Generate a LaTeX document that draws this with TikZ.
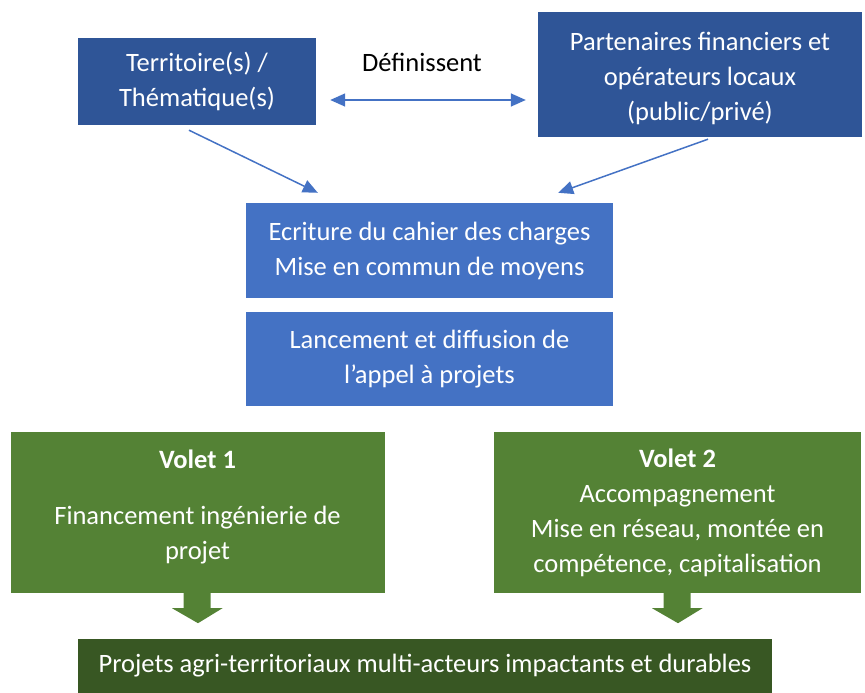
\documentclass[tikz,border=0pt]{standalone}
\usepackage{fontspec}
\setmainfont{Carlito}
\usetikzlibrary{arrows.meta,calc}
\definecolor{dblue}{HTML}{2F5597}
\definecolor{mblue}{HTML}{4472C4}
\definecolor{mgreen}{HTML}{548235}
\definecolor{dgreen}{HTML}{385723}
\begin{document}
\begin{tikzpicture}[x=1pt,y=-1pt,
  box/.style={rectangle,inner sep=0pt,align=center,text=white,
    font=\fontsize{26.5}{35}\selectfont},
  conn/.style={draw=mblue,line width=1.5pt,-{Triangle[length=15pt,width=13pt]}},
  blockarrow/.style={fill=mgreen,draw=none}]
\useasboundingbox (0,0) rectangle (865,693);
\node[box,fill=dblue,minimum width=238pt,minimum height=87pt] (tl) at (197,81.5)
  {Territoire(s) /\\Thématique(s)};
\node[box,fill=dblue,minimum width=324pt,minimum height=125pt] (tr) at (700,74.5)
  {\rule{0pt}{26pt}Partenaires financiers et\\opérateurs locaux\\(public/privé)};
\node[font=\fontsize{26.5}{35}\selectfont,inner sep=0pt] (def) at (422,62) {Définissent};
\node[box,fill=mblue,minimum width=367pt,minimum height=95pt] (m1) at (429.5,250.5)
  {Ecriture du cahier des charges\\Mise en commun de moyens};
\node[box,fill=mblue,minimum width=367pt,minimum height=94pt] (m2) at (429.5,359)
  {Lancement et diffusion de\\l’appel à projets};
\node[box,fill=mgreen,minimum width=374pt,minimum height=161pt] (g1) at (197.5,512.5)
  {\textbf{Volet 1}\\[21pt]Financement ingénierie de\\projet\rule[-15pt]{0pt}{0pt}};
\node[box,fill=mgreen,minimum width=367pt,minimum height=161pt] (g2) at (677.5,512.5)
  {\textbf{Volet 2}\\Accompagnement\\Mise en réseau, montée en\\compétence, capitalisation};
\node[box,fill=dgreen,minimum width=694pt,minimum height=54pt] (b) at (425,666)
  {Projets agri-territoriaux multi-acteurs impactants et durables};
% connectors
\draw[conn,{Triangle[length=15pt,width=13pt]}-{Triangle[length=15pt,width=13pt]}]
  ($(tl.east)+(14,18.5)$) -- ($(tr.west)+(-12,25.5)$);
\draw[conn] ($(tl.south)+(-8,5)$) -- ($(m1.north west)+(72,-10)$);
\draw[conn] ($(tr.south)+(8,2)$) -- ($(m1.north east)+(-55,-10)$);
% block arrows
\fill[blockarrow] ($(g1.south)+(-14,0)$) -- ++(27,0) -- ++(0,15) -- ++(12,0)
  -- ($(g1.south)+(0.5,30)$) -- ($(g1.south)+(-25.5,15)$) -- ++(11.5,0) -- cycle;
\fill[blockarrow] ($(g2.south)+(-14,0)$) -- ++(27,0) -- ++(0,15) -- ++(12,0)
  -- ($(g2.south)+(0.5,30)$) -- ($(g2.south)+(-25.5,15)$) -- ++(11.5,0) -- cycle;
\end{tikzpicture}
\end{document}
